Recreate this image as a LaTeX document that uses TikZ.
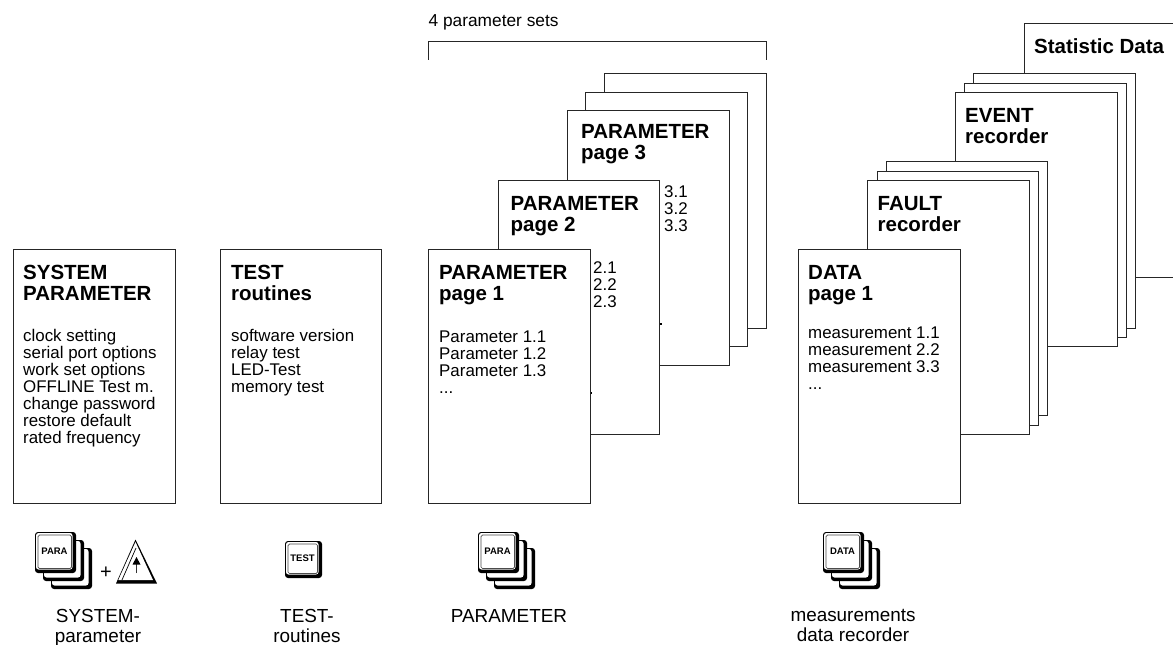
\documentclass[tikz,border=0pt]{standalone}
\usepackage{fontspec}
\setmainfont{Liberation Sans}
\tikzset{
 pagebox/.style={draw=black!85, fill=white, line width=1pt},
 headtext/.style={anchor=north west, inner sep=0pt, align=left, font=\fontsize{20.5}{21}\selectfont\bfseries},
 bodytext/.style={anchor=north west, inner sep=0pt, align=left, font=\fontsize{16.9}{17}\selectfont},
 capttext/.style={anchor=north, inner sep=0pt, align=center, font=\fontsize{18.9}{20}\selectfont},
 keytext/.style={inner sep=0pt, font=\fontsize{9.5}{9.5}\selectfont\bfseries},
 crumb/.style={fill=black, inner sep=0pt, minimum size=2pt}
}
% key behind the front one: left, top, size
\newcommand{\keyback}[3]{
 \fill[black, rounded corners=3pt] (#1,#2) rectangle (#1+#3,#2+#3);
 \fill[white, rounded corners=2.5pt] (#1+1,#2+1) rectangle (#1+#3-3.5,#2+#3-3.5);
}
% front key: left, top, size, label
\newcommand{\keycap}[4]{
 \keyback{#1}{#2}{#3}
 \draw[black!70, line width=0.7pt, rounded corners=1.5pt] (#1+3,#2+3) rectangle (#1+#3-4.5,#2+#3-4.5);
 \node[keytext] at (#1+#3/2-1,#2+#3/2-1) {#4};
}
\begin{document}
\begin{tikzpicture}[x=1pt, y=-1pt]
 \useasboundingbox (0,0) rectangle (1173,645);
 \clip (0,0) rectangle (1173,645);

 % left pages
 \draw[pagebox] (13.5,249.5) rectangle (175,503);
 \node[headtext] (syshead) at (23,265) {SYSTEM\\PARAMETER};
 \node[bodytext] (sysbody) at (23,329) {clock setting\\serial port options\\work set options\\OFFLINE Test m.\\change password\\restore default\\rated frequency};

 \draw[pagebox] (220,249.5) rectangle (381,503);
 \node[headtext] (testhead) at (231,265) {TEST\\routines};
 \node[bodytext] (testbody) at (231,329) {software version\\relay test\\LED-Test\\memory test};

 % parameter sets
 \node[anchor=base west, inner sep=0pt, font=\fontsize{17.3}{17}\selectfont] (setslabel) at (428.5,27) {4 parameter sets};
 \draw[draw=black!85, line width=1pt] (428.5,59.5) -- (428.5,41.5) -- (766,41.5) -- (766,59.5);

 \draw[pagebox] (604,73.5) rectangle (766,328);
 \draw[pagebox] (585.5,92.5) rectangle (747,346);
 \draw[pagebox] (567.5,110.5) rectangle (729,365);
 \node[headtext] (parhead3) at (581,124) {PARAMETER\\page 3};
 \node[bodytext] (parbody3) at (664,185) {3.1\\3.2\\3.3};
 \node[crumb] (crumb3) at (660.5,324) {};
 \draw[pagebox] (498,180) rectangle (659,434);
 \node[headtext] (parhead2) at (510.5,196) {PARAMETER\\page 2};
 \node[bodytext] (parbody2) at (593,261) {2.1\\2.2\\2.3};
 \node[crumb] (crumb2) at (591,393) {};
 \draw[pagebox] (428.5,249.5) rectangle (590,503);
 \node[headtext] (parhead1) at (439,265) {PARAMETER\\page 1};
 \node[bodytext] (parbody1) at (439,331) {Parameter 1.1\\Parameter 1.2\\Parameter 1.3\\...};

 % data pages
 \draw[pagebox] (1024,23) rectangle (1186,277);
 \node[headtext] (stathead) at (1034,38) {Statistic Data};
 \draw[pagebox] (973.5,73.5) rectangle (1135,328);
 \draw[pagebox] (964.5,83) rectangle (1126,337);
 \draw[pagebox] (955.5,92.5) rectangle (1117,346);
 \node[headtext] (eventhead) at (965,108) {EVENT\\recorder};
 \draw[pagebox] (886,161.5) rectangle (1047,415);
 \draw[pagebox] (877,171) rectangle (1038,425);
 \draw[pagebox] (867.5,180) rectangle (1029,434);
 \node[headtext] (faulthead) at (877.5,196) {FAULT\\recorder};
 \draw[pagebox] (798,249.5) rectangle (960,503);
 \node[headtext] (datahead) at (808,265) {DATA\\page 1};
 \node[bodytext] (databody) at (808,327) {measurement 1.1\\measurement 2.2\\measurement 3.3\\...};

 % keys
 \keyback{51}{548}{41}
 \keyback{43}{540}{41}
 \keycap{35}{532}{41}{PARA}
 \node[font=\fontsize{20}{20}\selectfont, inner sep=0pt] (plussign) at (106,572.5) {+};
 \fill[black] (135.5,539.5) -- (157,583.5) -- (116,583.5) -- cycle;
 \fill[white] (135.5,542) -- (153,580) -- (118.3,580) -- cycle;
 \draw[black, line width=0.7pt] (136,548) -- (122,580);
 \draw[black!80, line width=0.8pt] (136.5,573) -- (136.5,563);
 \fill[black] (136.5,557) -- (140.5,564.5) -- (132.5,564.5) -- cycle;

 \keycap{285}{541}{37}{TEST}

 \keyback{494}{548}{41}
 \keyback{486}{540}{41}
 \keycap{478}{532}{41}{PARA}

 \keyback{839}{548}{41}
 \keyback{831}{540}{41}
 \keycap{823}{532}{41}{DATA}

 % captions
 \node[capttext] (syscapt) at (98,609) {SYSTEM-\\parameter};
 \node[capttext] (testcapt) at (307,609) {TEST-\\routines};
 \node[capttext] (parcapt) at (509,609) {PARAMETER};
 \node[capttext] (datacapt) at (853,609) {measurements\\data recorder};
\end{tikzpicture}
\end{document}
